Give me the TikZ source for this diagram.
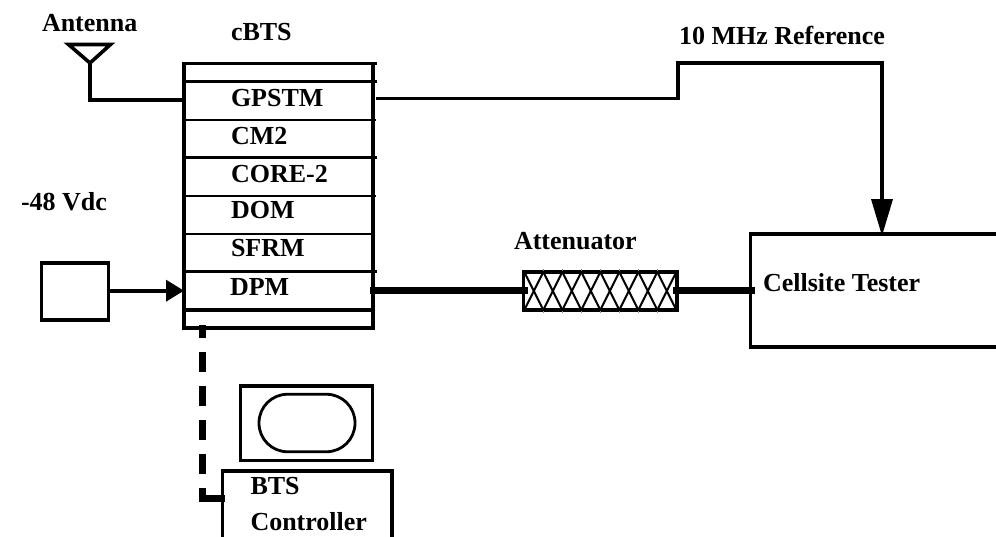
\documentclass[tikz,border=0pt]{standalone}
\usepackage{fontspec}
\setmainfont{Liberation Serif}
\usetikzlibrary{arrows.meta,calc}
\tikzset{
  x=1pt,y=-1pt,
  lbl/.style={anchor=base west,inner sep=0pt,outer sep=0pt,font=\fontsize{26}{30}\selectfont\bfseries},
  box/.style={draw=black,line width=3.5pt,rectangle,inner sep=0pt,outer sep=0pt,anchor=north west,fill=none},
  port/.style={inner sep=0pt,outer sep=0pt,minimum width=189pt,minimum height=38pt},
  septhin/.style={line width=2pt,line cap=rect},
  septhick/.style={line width=3.5pt,line cap=rect},
  wire/.style={line width=3.6pt,black},
  cable/.style={line width=7pt,black},
  hatch/.style={line width=2.1pt,black},
  bigtip/.style={-{Triangle[length=37pt,width=21pt]}},
  smalltip/.style={-{Triangle[length=18pt,width=21pt]}},
}
\newcommand{\boxat}[5]{\node[box,minimum width=#4 pt-#2 pt,minimum height=#5 pt-#3 pt] (#1) at (#2,#3) {};}
\begin{document}
\begin{tikzpicture}
\useasboundingbox (0,0) rectangle (996,536);
\clip (0,0) rectangle (996,536);
% labels
\node[lbl] (lantenna) at (42,31) {Antenna};
\node[lbl] (lcbts) at (231,40) {cBTS};
\node[lbl] (lref) at (679,44.5) {10 MHz Reference};
\node[lbl] (lvdc) at (21,210) {-48 Vdc};
\node[lbl] (lgps) at (231,106) {GPSTM};
\node[lbl] (lcm) at (231,144) {CM2};
\node[lbl] (lcore) at (231,182.5) {CORE-2};
\node[lbl] (ldom) at (231,218.5) {DOM};
\node[lbl] (lsfrm) at (231,256.5) {SFRM};
\node[lbl] (ldpm) at (230,295) {DPM};
\node[lbl] (latt) at (514,249) {Attenuator};
\node[lbl] (ltester) at (763,291) {Cellsite Tester};
\node[lbl] (lbts) at (250.5,494) {BTS};
\node[lbl] (lctrl) at (250.5,530) {Controller};
% cBTS rack
\boxat{cbts}{184}{63.5}{373}{328}
\node[port] (gpstm) at (278.5,100) {};
\node[port] (dpm) at (278.5,290.7) {};
\draw[septhick] (184,63.5) -- (375,63.5);
\draw[septhick] (184,81.7) -- (375,81.7);
\draw[septhin] (184,119.5) -- (375,119.5);
\draw[septhick] (184,157.5) -- (375,157.5);
\draw[septhin] (184,195.7) -- (375,195.7);
\draw[septhin] (184,233.5) -- (373,233.5);
\draw[septhick] (184,271.7) -- (375,271.7);
\draw[septhick] (184,310) -- (373,310);
% antenna
\coordinate (ant) at (90,63);
\draw[wire,line join=miter] (68.5,44.5) -- (110.5,44.5) -- (ant) -- cycle;
\draw[wire] (ant) |- (gpstm.west);
% power supply
\boxat{psu}{41.5}{263}{108.5}{320}
\draw[wire,smalltip] (psu.east |- dpm.west) -- (dpm.west);
% attenuator
\boxat{att}{523.5}{272}{677}{310}
\foreach \i in {0,...,7}{
  \draw[hatch] ({524.3+19*\i},272) -- ({543.3+19*\i},310);
  \draw[hatch] ({543.3+19*\i},272) -- ({524.3+19*\i},310);
}
\foreach \i in {1,...,7}{
  \draw[line width=.5pt,black!45] ({524.3+19*\i},269) -- ({524.3+19*\i},271);
  \draw[line width=.5pt,black!45] ({524.3+19*\i},311) -- ({524.3+19*\i},313);
}
% tester
\boxat{tester}{750.7}{234}{1010}{347}
\coordinate (refa) at (376,98.5);
\coordinate (refb) at (678,63);
\coordinate (refc) at (882,63);
\draw[wire,line join=miter,bigtip] (refa) -| (refb) -- (refc) -- ([yshift=-2pt]refc |- tester.north);
% cables
\coordinate (cablea) at (370,290.7);
\coordinate (cableb) at (527.5,290.7);
\coordinate (cablec) at (672.5,290.7);
\coordinate (cabled) at (755,290.7);
\draw[cable] (cablea) -- (cableb);
\draw[cable] (cablec) -- (cabled);
% monitor
\boxat{mon}{240.7}{386}{372.7}{460.7}
\node[draw=black,line width=2.8pt,rectangle,rounded corners=28.5pt,minimum width=96pt,minimum height=57.5pt,inner sep=0pt,outer sep=0pt] (screen) at (307,423) {};
% controller
\boxat{ctrl}{222.3}{471}{392}{560}
\coordinate (busa) at (202.7,325);
\coordinate (bend) at (202.7,488);
\coordinate (corner) at (202.7,498);
\draw[line width=7pt,dash pattern=on 20pt off 14pt,dash phase=7pt] (busa) -- (bend);
\draw[line width=7pt] (bend) -- (202.7,501.5);
\draw[line width=7pt] (199.2,498) -- (225,498);
\end{tikzpicture}
\end{document}
